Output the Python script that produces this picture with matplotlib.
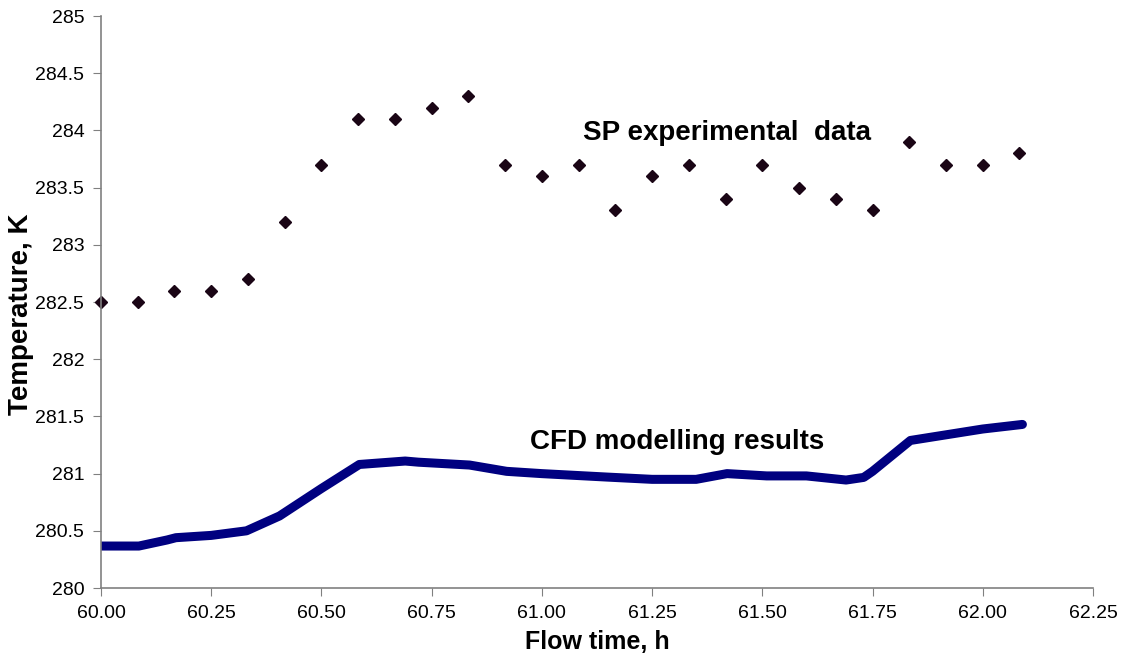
import numpy as np
import matplotlib.pyplot as plt

plt.rcParams['font.family'] = ['Liberation Sans', 'DejaVu Sans']

# SP experimental data, one reading every 5 minutes
sp_time = 60 + np.arange(26) / 12.0
sp_temp = [282.5, 282.5, 282.6, 282.6, 282.7, 283.2, 283.7, 284.1, 284.1, 284.2,
           284.3, 283.7, 283.6, 283.7, 283.3, 283.6, 283.7, 283.4, 283.7, 283.5,
           283.4, 283.3, 283.9, 283.7, 283.7, 283.8]

# CFD modelling results
cfd_time = [60.0, 60.086, 60.15, 60.17, 60.25, 60.33, 60.405, 60.5, 60.586, 60.69,
            60.72, 60.836, 60.92, 61.0, 61.147, 61.25, 61.35, 61.42, 61.51, 61.60,
            61.69, 61.73, 61.75, 61.836, 62.0, 62.09]
cfd_temp = [280.367, 280.367, 280.42, 280.44, 280.46, 280.50, 280.63, 280.87, 281.08, 281.11,
            281.10, 281.075, 281.02, 281.0, 280.97, 280.95, 280.95, 281.0, 280.98, 280.98,
            280.944, 280.967, 281.02, 281.29, 281.39, 281.43]

fig = plt.figure(figsize=(11.27, 6.59), dpi=100)
ax = fig.add_axes([0.0896, 0.1077, 0.8802, 0.8680])

ax.plot(cfd_time, cfd_temp, color='#000080', lw=6.5, solid_capstyle='round')
ax.plot(sp_time, sp_temp, linestyle='none', marker='D', markersize=6,
        color='#1a0515', clip_on=False)

ax.set_xlim(60, 62.25)
ax.set_ylim(280, 285)
ax.set_xticks(np.arange(60, 62.26, 0.25))
ax.set_xticklabels(['%.2f' % v for v in np.arange(60, 62.26, 0.25)])
ax.set_yticks(np.arange(280, 285.01, 0.5))
ax.set_yticklabels(['%g' % v for v in np.arange(280, 285.01, 0.5)])

for s in ['top', 'right']:
    ax.spines[s].set_visible(False)
for s in ['left', 'bottom']:
    ax.spines[s].set_color('#808080')
    ax.spines[s].set_linewidth(1.2)
ax.tick_params(direction='out', length=6, color='#808080', labelsize=14, pad=6)

ax.set_xlabel('Flow time, h', fontsize=18, fontweight='bold', labelpad=6)
ax.set_ylabel('Temperature, K', fontsize=20, fontweight='bold')
ax.yaxis.set_label_coords(-0.068, 0.479)

ax.text(61.093, 283.98, 'SP experimental  data', fontsize=20, fontweight='bold',
        ha='left', va='center')
ax.text(60.973, 281.28, 'CFD modelling results', fontsize=20, fontweight='bold',
        ha='left', va='center')

fig.savefig('out.png', dpi=100)
